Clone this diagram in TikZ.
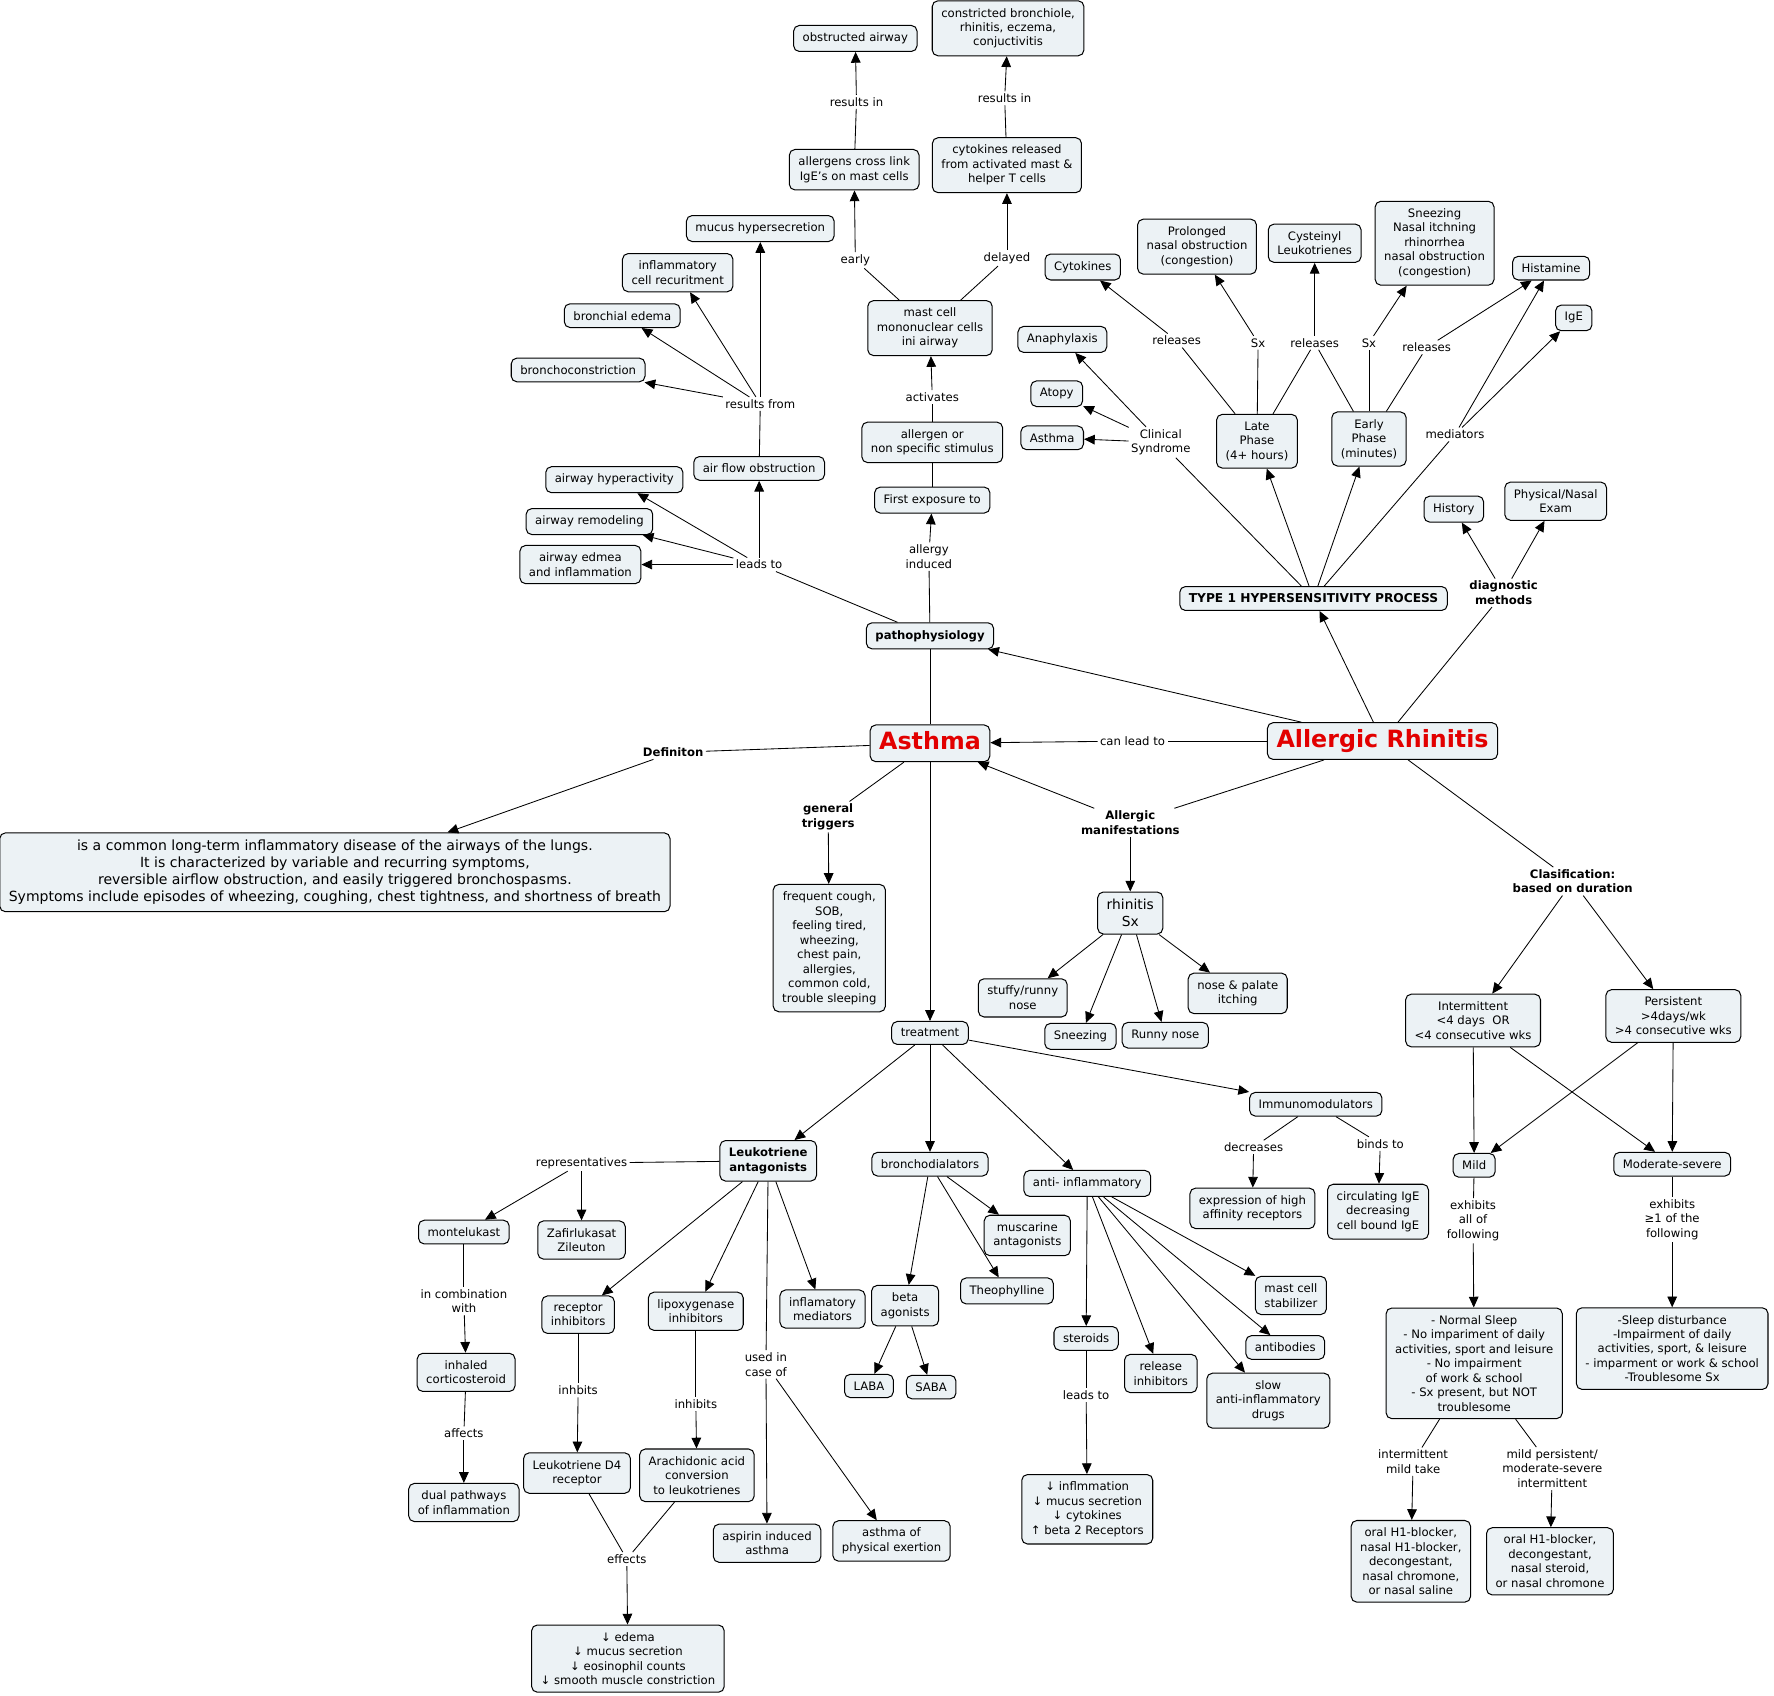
\documentclass[tikz,border=0pt]{standalone}
\usepackage{fontspec}
\setmainfont{DejaVu Sans}
\usetikzlibrary{arrows.meta}
\definecolor{boxfill}{RGB}{236,242,245}
\definecolor{titlered}{RGB}{226,0,0}
\newcommand\mapfont{\fontsize{10.3}{12.8}\selectfont}

\begin{document}
\begin{tikzpicture}[x=1pt,y=-1pt,
    concept/.style={draw, fill=boxfill, rounded corners=5pt, align=center,
      line width=0.9pt, inner xsep=8pt, inner ysep=6.5pt, font=\mapfont},
    boldconcept/.style={concept, font=\mapfont\bfseries},
    mainconcept/.style={concept, font=\fontsize{21}{25}\selectfont\bfseries,
      text=titlered, text height=16pt, text depth=4.5pt, inner ysep=6pt},
    linkph/.style={align=center, inner sep=2pt, font=\mapfont},
    boldph/.style={linkph, font=\mapfont\bfseries},
    link/.style={line width=0.75pt},
    linkto/.style={link, -{Triangle[length=9.5pt,width=8.5pt]}}]
  \useasboundingbox (0,0) rectangle (1568,1499);

  % pathophysiology branch
  \node[concept] (obstructed) at (756,34) {obstructed airway};
  \node[concept] (constricted) at (891,25) {constricted bronchiole,\\rhinitis, eczema,\\conjuctivitis};
  \node[concept] (crosslink) at (755,150) {allergens cross link\\IgE's on mast cells};
  \node[concept] (cytorel) at (890,146) {cytokines released\\from activated mast \&\\helper T cells};
  \node[concept] (mucus) at (672,202) {mucus hypersecretion};
  \node[concept] (inflcell) at (599,241) {inflammatory\\cell recuritment};
  \node[concept] (bredema) at (550,279) {bronchial edema};
  \node[concept] (bconstr) at (511,327) {bronchoconstriction};
  \node[concept] (mastcell) at (822,290) {mast cell\\mononuclear cells\\ini airway};
  \node[concept] (allergen) at (824,391) {allergen or\\non specific stimulus};
  \node[concept] (firstexp) at (824,442) {First exposure to};
  \node[concept] (airflow) at (671,414) {air flow obstruction};
  \node[concept] (hyperact) at (543,424) {airway hyperactivity};
  \node[concept] (remodel) at (521,461) {airway remodeling};
  \node[concept] (edmea) at (513,499) {airway edmea\\and inflammation};
  \node[boldconcept] (patho) at (822,562) {pathophysiology};

  \node[linkph] (lresin1) at (757,90) {results in};
  \node[linkph] (lresin2) at (888,87) {results in};
  \node[linkph] (learly) at (756,230) {early};
  \node[linkph] (ldelayed) at (890,228) {delayed};
  \node[linkph] (lresfrom) at (672,357) {results from};
  \node[linkph] (lactiv) at (824,351) {activates};
  \node[linkph] (lleads) at (671,499) {leads to};
  \node[linkph] (lallergy) at (821,492) {allergy\\induced};

  % main concepts
  \node[mainconcept] (asthma) at (822,657) {Asthma};
  \node[mainconcept] (ar) at (1222,655) {Allergic Rhinitis};
  \node[concept, font=\fontsize{12.4}{14.9}\selectfont] (defbox) at (296,771)
    {is a common long-term inflammatory disease of the airways of the lungs.\\
     It is characterized by variable and recurring symptoms,\\
     reversible airflow obstruction, and easily triggered bronchospasms.\\
     Symptoms include episodes of wheezing, coughing, chest tightness, and shortness of breath};
  \node[concept] (trigbox) at (733,838) {frequent cough,\\SOB,\\feeling tired,\\wheezing,\\chest pain,\\allergies,\\common cold,\\trouble sleeping};
  \node[concept, font=\fontsize{12.2}{14.7}\selectfont] (rhin) at (999,807) {rhinitis\\Sx};
  \node[concept] (stuffy) at (904,882) {stuffy/runny\\nose};
  \node[concept] (sneez) at (955,916) {Sneezing};
  \node[concept] (runny) at (1030,915) {Runny nose};
  \node[concept] (itch) at (1094,878) {nose \& palate\\itching};

  \node[boldph] (ldef) at (595,665) {Definiton};
  \node[linkph] (lcanlead) at (1001,655) {can lead to};
  \node[boldph] (ltrig) at (732,722) {general\\triggers};
  \node[boldph] (lmanif) at (999,727) {Allergic\\manifestations};

  % treatment
  \node[concept] (treat) at (822,913) {treatment};
  \node[boldconcept] (leuko) at (679,1026) {Leukotriene\\antagonists};
  \node[concept] (bronchod) at (822,1029) {bronchodialators};
  \node[concept] (antiinf) at (961,1046) {anti- inflammatory};
  \node[concept] (immuno) at (1163,976) {Immunomodulators};
  \node[concept] (exprec) at (1107,1068) {expression of high\\affinity receptors};
  \node[concept] (circige) at (1218,1071) {circulating IgE\\decreasing\\cell bound IgE};
  \node[concept] (monte) at (410,1089) {montelukast};
  \node[concept] (zafir) at (514,1096) {Zafirlukasat\\Zileuton};
  \node[concept] (recinh) at (511,1162) {receptor\\inhibitors};
  \node[concept] (lipox) at (615,1159) {lipoxygenase\\inhibitors};
  \node[concept] (inflmed) at (727,1157) {inflamatory\\mediators};
  \node[concept] (muscar) at (908,1092) {muscarine\\antagonists};
  \node[concept] (beta) at (800,1154) {beta\\agonists};
  \node[concept] (theo) at (890,1141) {Theophylline};
  \node[concept] (laba) at (768,1225) {LABA};
  \node[concept] (saba) at (823,1226) {SABA};
  \node[concept] (steroids) at (960,1183) {steroids};
  \node[concept] (relinh) at (1026,1214) {release\\inhibitors};
  \node[concept] (slowaid) at (1121,1238) {slow\\anti-inflammatory\\drugs};
  \node[concept] (mcstab) at (1141,1145) {mast cell\\stabilizer};
  \node[concept] (antib) at (1136,1191) {antibodies};
  \node[concept] (ics) at (412,1213) {inhaled\\corticosteroid};
  \node[concept] (dual) at (410,1328) {dual pathways\\of inflammation};
  \node[concept] (ltd4) at (510,1302) {Leukotriene D4\\receptor};
  \node[concept] (arach) at (616,1304) {Arachidonic acid\\conversion\\to leukotrienes};
  \node[concept] (aspirin) at (678,1364) {aspirin induced\\asthma};
  \node[concept] (exert) at (788,1362) {asthma of\\physical exertion};
  \node[concept] (steffect) at (961,1334) {↓ inflmmation\\↓ mucus secretion\\↓ cytokines\\↑ beta 2 Receptors};
  \node[concept] (ltfx) at (555,1466) {↓ edema\\↓ mucus secretion\\↓ eosinophil counts\\↓ smooth muscle constriction};

  \node[linkph] (lrepr) at (514,1028) {representatives};
  \node[linkph] (lcomb) at (410,1150) {in combination\\with};
  \node[linkph] (laffects) at (410,1267) {affects};
  \node[linkph] (linhb) at (511,1229) {inhbits};
  \node[linkph] (linhib) at (615,1241) {inhibits};
  \node[linkph] (lused) at (677,1206) {used in\\case of};
  \node[linkph] (leffects) at (554,1378) {effects};
  \node[linkph] (lleads2) at (960,1233) {leads to};
  \node[linkph] (ldecr) at (1108,1014) {decreases};
  \node[linkph] (lbinds) at (1220,1011) {binds to};

  % type 1 hypersensitivity
  \node[concept] (cytok) at (957,236) {Cytokines};
  \node[concept] (prolong) at (1058,218) {Prolonged\\nasal obstruction\\(congestion)};
  \node[concept] (cyst) at (1162,215) {Cysteinyl\\Leukotrienes};
  \node[concept] (sneezbox) at (1268,215) {Sneezing\\Nasal itchning\\rhinorrhea\\nasal obstruction\\(congestion)};
  \node[concept] (histam) at (1371,237) {Histamine};
  \node[concept] (ige) at (1391,281) {IgE};
  \node[concept] (anaph) at (939,300) {Anaphylaxis};
  \node[concept] (atopy) at (934,348) {Atopy};
  \node[concept] (asthsm) at (930,387) {Asthma};
  \node[concept] (late) at (1111,390) {Late\\Phase\\(4+ hours)};
  \node[concept] (early) at (1210,388) {Early\\Phase\\(minutes)};
  \node[concept, font=\fontsize{10.8}{12.8}\selectfont\bfseries] (type1) at (1161,529) {TYPE 1 HYPERSENSITIVITY PROCESS};
  \node[concept] (history) at (1285,450) {History};
  \node[concept] (physexam) at (1375,443) {Physical/Nasal\\Exam};

  \node[linkph] (lmediat) at (1286,384) {mediators};
  \node[linkph] (lclin) at (1026,391) {Clinical\\Syndrome};
  \node[linkph] (lrel1) at (1040,301) {releases};
  \node[linkph] (lsx1) at (1112,303) {Sx};
  \node[linkph] (lrel2) at (1162,303) {releases};
  \node[linkph] (lsx2) at (1210,303) {Sx};
  \node[linkph] (lrel3) at (1261,307) {releases};
  \node[boldph] (ldiag) at (1329,524) {diagnostic\\methods};

  % classification
  \node[concept] (intermit) at (1302,902) {Intermittent\\<4 days~~OR\\<4 consecutive wks};
  \node[concept] (persist) at (1479,898) {Persistent\\>4days/wk\\>4 consecutive wks};
  \node[concept] (mild) at (1303,1030) {Mild};
  \node[concept] (modsev) at (1478,1029) {Moderate-severe};
  \node[concept] (mildsx) at (1303,1205) {- Normal Sleep\\- No impariment of daily\\activities, sport and leisure\\- No impairment\\of work \& school\\- Sx present, but NOT\\troublesome};
  \node[concept] (modsx) at (1478,1192) {-Sleep disturbance\\-Impairment of daily\\activities, sport, \& leisure\\- imparment or work \& school\\-Troublesome Sx};
  \node[concept] (rxmild) at (1247,1380) {oral H1-blocker,\\nasal H1-blocker,\\decongestant,\\nasal chromone,\\or nasal saline};
  \node[concept] (rxmod) at (1370,1380) {oral H1-blocker,\\decongestant,\\nasal steroid,\\or nasal chromone};

  \node[boldph] (lclass) at (1390,779) {Clasification:\\based on duration};
  \node[linkph] (lexhall) at (1302,1079) {exhibits\\all of\\following};
  \node[linkph] (lexhone) at (1478,1078) {exhibits\\≥1 of the\\following};
  \node[linkph] (lintmild) at (1249,1292) {intermittent\\mild take};
  \node[linkph] (lmildpers) at (1372,1298) {mild persistent/\\moderate-severe\\intermittent};

  % connections: pathophysiology
  \draw[link] (crosslink) -- (lresin1);
  \draw[linkto] (lresin1) -- (obstructed);
  \draw[link] (cytorel) -- (lresin2);
  \draw[linkto] (lresin2) -- (constricted);
  \draw[link] (mastcell) -- (learly);
  \draw[linkto] (learly) -- (crosslink);
  \draw[link] (mastcell) -- (ldelayed);
  \draw[linkto] (ldelayed) -- (cytorel);
  \draw[link] (allergen) -- (lactiv);
  \draw[linkto] (lactiv) -- (mastcell);
  \draw[link] (firstexp) -- (allergen);
  \draw[link] (patho) -- (lallergy);
  \draw[linkto] (lallergy) -- (firstexp);
  \draw[link] (patho) -- (lleads);
  \foreach \tgt in {airflow,hyperact,remodel,edmea}
    \draw[linkto] (lleads) -- (\tgt);
  \draw[link] (airflow) -- (lresfrom);
  \foreach \tgt in {mucus,inflcell,bredema,bconstr}
    \draw[linkto] (lresfrom) -- (\tgt);

  % connections: main
  \draw[link] (asthma) -- (patho);
  \draw[linkto] (ar) -- (patho);
  \draw[link] (ar) -- (lcanlead);
  \draw[linkto] (lcanlead) -- (asthma);
  \draw[link] (asthma) -- (ldef);
  \draw[linkto] (ldef) -- (defbox);
  \draw[link] (asthma) -- (ltrig);
  \draw[linkto] (ltrig) -- (trigbox);
  \draw[linkto] (asthma) -- (treat);
  \draw[link] (ar) -- (lmanif);
  \draw[linkto] (lmanif) -- (asthma);
  \draw[linkto] (lmanif) -- (rhin);
  \foreach \tgt in {stuffy,sneez,runny,itch}
    \draw[linkto] (rhin) -- (\tgt);

  % connections: type 1
  \draw[linkto] (ar) -- (type1);
  \draw[link] (type1) -- (lclin);
  \foreach \tgt in {anaph,atopy,asthsm}
    \draw[linkto] (lclin) -- (\tgt);
  \draw[linkto] (type1) -- (late);
  \draw[linkto] (type1) -- (early);
  \draw[link] (type1) -- (lmediat);
  \draw[linkto] (lmediat) -- (histam);
  \draw[linkto] (lmediat) -- (ige);
  \draw[link] (late) -- (lrel1);
  \draw[linkto] (lrel1) -- (cytok);
  \draw[link] (late) -- (lsx1);
  \draw[linkto] (lsx1) -- (prolong);
  \draw[link] (late) -- (lrel2);
  \draw[link] (early) -- (lrel2);
  \draw[linkto] (lrel2) -- (cyst);
  \draw[link] (early) -- (lsx2);
  \draw[linkto] (lsx2) -- (sneezbox);
  \draw[link] (early) -- (lrel3);
  \draw[linkto] (lrel3) -- (histam);
  \draw[link] (ar) -- (ldiag);
  \draw[linkto] (ldiag) -- (history);
  \draw[linkto] (ldiag) -- (physexam);

  % connections: classification
  \draw[link] (ar) -- (lclass);
  \draw[linkto] (lclass) -- (intermit);
  \draw[linkto] (lclass) -- (persist);
  \draw[linkto] (intermit) -- (mild);
  \draw[linkto] (intermit) -- (modsev);
  \draw[linkto] (persist) -- (mild);
  \draw[linkto] (persist) -- (modsev);
  \draw[link] (mild) -- (lexhall);
  \draw[linkto] (lexhall) -- (mildsx);
  \draw[link] (modsev) -- (lexhone);
  \draw[linkto] (lexhone) -- (modsx);
  \draw[link] (mildsx) -- (lintmild);
  \draw[linkto] (lintmild) -- (rxmild);
  \draw[link] (mildsx) -- (lmildpers);
  \draw[linkto] (lmildpers) -- (rxmod);

  % connections: treatment
  \draw[linkto] (treat) -- (leuko);
  \draw[linkto] (treat) -- (bronchod);
  \draw[linkto] (treat) -- (antiinf);
  \draw[linkto] (treat) -- (immuno);
  \draw[link] (leuko) -- (lrepr);
  \draw[linkto] (lrepr) -- (monte);
  \draw[linkto] (lrepr) -- (zafir);
  \draw[linkto] (leuko) -- (recinh);
  \draw[linkto] (leuko) -- (lipox);
  \draw[link] (leuko) -- (lused);
  \draw[linkto] (lused) -- (aspirin);
  \draw[linkto] (lused) -- (exert);
  \draw[linkto] (leuko) -- (inflmed);
  \draw[link] (monte) -- (lcomb);
  \draw[linkto] (lcomb) -- (ics);
  \draw[link] (ics) -- (laffects);
  \draw[linkto] (laffects) -- (dual);
  \draw[link] (recinh) -- (linhb);
  \draw[linkto] (linhb) -- (ltd4);
  \draw[link] (lipox) -- (linhib);
  \draw[linkto] (linhib) -- (arach);
  \draw[link] (ltd4) -- (leffects);
  \draw[link] (arach) -- (leffects);
  \draw[linkto] (leffects) -- (ltfx);
  \foreach \tgt in {beta,theo,muscar}
    \draw[linkto] (bronchod) -- (\tgt);
  \draw[linkto] (beta) -- (laba);
  \draw[linkto] (beta) -- (saba);
  \foreach \tgt in {steroids,relinh,slowaid,antib,mcstab}
    \draw[linkto] (antiinf) -- (\tgt);
  \draw[link] (steroids) -- (lleads2);
  \draw[linkto] (lleads2) -- (steffect);
  \draw[link] (immuno) -- (ldecr);
  \draw[linkto] (ldecr) -- (exprec);
  \draw[link] (immuno) -- (lbinds);
  \draw[linkto] (lbinds) -- (circige);
\end{tikzpicture}
\end{document}
